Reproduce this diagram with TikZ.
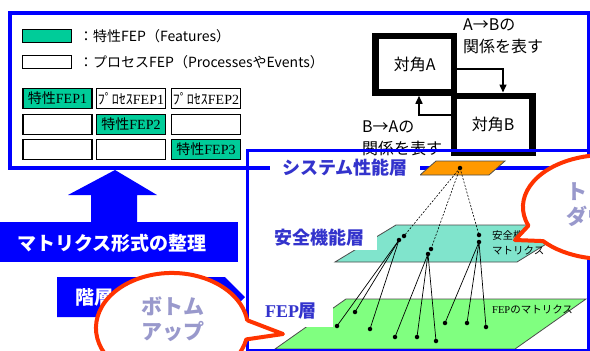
\documentclass[tikz,border=0pt]{standalone}
\usepackage{fontspec}
\setmainfont{Noto Sans CJK JP}
\newfontfamily\cjk{Noto Sans CJK JP}
\newfontfamily\tms{Liberation Serif}
\usetikzlibrary{arrows.meta}
\definecolor{pblue}{RGB}{0,0,255}
\definecolor{lblue}{RGB}{51,51,204}
\definecolor{cellgreen}{RGB}{0,204,153}
\definecolor{tealL}{RGB}{128,228,204}
\definecolor{lgreen}{RGB}{128,255,128}
\definecolor{orng}{RGB}{255,153,0}
\definecolor{cred}{RGB}{255,51,0}
\definecolor{lav}{RGB}{153,153,204}
\tikzset{
  frameline/.style={draw=pblue, line width=3.5pt},
  cell/.style={draw=black, line width=1.2pt, minimum width=69pt, minimum height=20pt, inner sep=0pt, font=\cjk\fontsize{14}{15}\selectfont},
  gcell/.style={cell, fill=cellgreen},
  legbox/.style={draw=black, line width=1.2pt, minimum width=49pt, minimum height=13pt, inner sep=0pt},
  legtext/.style={anchor=west, inner sep=0pt, font=\cjk\fontsize{14}{16}\selectfont},
  diag/.style={draw=black, line width=6.5pt, minimum width=78.5pt, minimum height=56.5pt, inner sep=0pt, font=\cjk\fontsize{16}{19}\selectfont},
  note/.style={anchor=west, align=left, inner sep=0pt, font=\cjk\fontsize{16}{22}\selectfont},
  conn/.style={line width=1.5pt, -{Triangle[length=8pt,width=7pt]}},
  whitetext/.style={text=white, inner sep=0pt, font=\cjk\bfseries\fontsize{19}{22}\selectfont},
  layerlabel/.style={fill=white, text=lblue, inner sep=0pt, font=\cjk\bfseries\fontsize{18}{20}\selectfont},
  layer/.style={draw=black!70, line width=0.8pt},
  small/.style={anchor=west, align=left, inner sep=0pt, font=\cjk\fontsize{10.5}{15}\selectfont},
  dot/.style={circle, fill=black, inner sep=0pt, minimum size=4.5pt},
  dashline/.style={line width=0.6pt, dash pattern=on 2pt off 1.5pt},
  solidline/.style={line width=0.7pt},
  callout/.style={draw=cred, fill=white, line width=4pt, line join=round},
  callouttext/.style={text=lav, align=center, inner sep=0pt, font=\cjk\bfseries\fontsize{21}{25}\selectfont}
}
\begin{document}
\begin{tikzpicture}[x=1pt,y=-1pt,font=\cjk]
\useasboundingbox (0,0) rectangle (590,351);
\fill[white] (0,0) rectangle (590,351);

% frame A
\draw[frameline] (10,13) rectangle (588.5,168);

% legend
\node[legbox, fill=cellgreen] (lg1) at (47,36) {};
\node[legtext] (lt1) at (79,36) {：特性FEP（Features）};
\node[legbox, fill=white] (lg2) at (47,62) {};
\node[legtext] (lt2) at (79,62) {：プロセスFEP（ProcessesやEvents）};

% table
\node[gcell] (c11) at (57.5,98.5) {特性{\tms FEP1}};
\node[cell] (c12) at (131,98.5) {ﾌﾟﾛｾｽ{\tms FEP1}};
\node[cell] (c13) at (206,98.5) {ﾌﾟﾛｾｽ{\tms FEP2}};
\node[cell] (c21) at (57.5,124.5) {};
\node[gcell] (c22) at (131,124.5) {特性{\tms FEP2}};
\node[cell] (c23) at (206,124.5) {};
\node[cell] (c31) at (57.5,149.5) {};
\node[cell] (c32) at (131,149.5) {};
\node[gcell] (c33) at (206,149.5) {特性{\tms FEP3}};

% diagonal example
\node[diag] (A) at (414.75,64.25) {対角A};
\node[diag] (B) at (493.25,124) {対角B};
\draw[conn] ([yshift=-4.75pt]A.east) -| ([xshift=9.75pt]B.north);
\draw[conn] ([yshift=9pt]B.west) -| ([xshift=4.25pt]A.south);
\node[note] (tAB) at (463,36) {A→Bの\\関係を表す};
\node[note] (tBA) at (362,138) {B→Aの\\関係を表す};

% big up arrow and blue blocks
\fill[pblue] (115,170) -- (157,195) -- (137,195) -- (137,223) -- (91,223) -- (91,195) -- (68,195) -- cycle;
\fill[pblue] (-2,222) rectangle (238,262);
\node[whitetext] (mx) at (112,243) {マトリクス形式の整理};
\fill[pblue] (57,277) -- (225,277) -- (245,297) -- (225,317) -- (57,317) -- cycle;
\node[whitetext, anchor=west] (kai) at (75,297) {階層};

% layers
\fill[orng] (420,175) -- (489,175) -- (505,161) -- (436,161) -- cycle;
\draw[layer] (420,175) -- (489,175) -- (505,161) -- (436,161) -- cycle;
\filldraw[layer, fill=tealL] (335,262) -- (517,262) -- (577,225) -- (396,225) -- cycle;
\filldraw[layer, fill=lgreen] (275,349) -- (515,349) -- (586,299) -- (346,299) -- cycle;

\node[layerlabel, minimum width=150pt, minimum height=22pt] (Ls) at (345,168) {システム性能層};
\node[layerlabel, minimum width=115pt, minimum height=25pt] (Lf) at (319.5,237.5) {安全機能層};
\node[layerlabel, minimum width=84pt, minimum height=32pt] (Le) at (291,311) {{\tms\bfseries FEP}層};

\node[small] (tf) at (492,242.5) {安全機能\\マトリクス};
\node[small] (te) at (492,309) {{\tms FEP}のマトリクス};

% dots
\node[dot] (o) at (460,168) {};
\node[dot] (a1) at (404,236) {};
\node[dot] (a2) at (431,249) {};
\node[dot] (a3) at (479,235) {};
\node[dot] (b1) at (399,240) {};
\node[dot] (b2) at (428,254) {};
\node[dot] (b3) at (479,242) {};
\node[dot] (f1) at (337,326) {};
\node[dot] (f2) at (355,312) {};
\node[dot] (f3) at (370,329) {};
\node[dot] (f4) at (395,337) {};
\node[dot] (f5) at (417,337) {};
\node[dot] (f6) at (436,341) {};
\node[dot] (f7) at (445,323) {};
\node[dot] (f8) at (467,323) {};
\node[dot] (f9) at (486,327) {};
\foreach \t in {a1,a2,a3} \draw[dashline] (o.center) -- (\t.center);
\foreach \t in {f1,f2,f3} \draw[solidline] (b1.center) -- (\t.center);
\foreach \t in {f4,f5,f6} \draw[solidline] (b2.center) -- (\t.center);
\foreach \t in {f7,f8,f9} \draw[solidline] (b3.center) -- (\t.center);

% frame B
\draw[frameline, line width=3pt] (247.5,150.5) rectangle (588.5,350.5);

% callouts
\filldraw[callout] (247.3,320.3) -- (283,334) -- (246.3,339.4) arc[start angle=12, end angle=352, x radius=76, y radius=55] -- cycle;
\node[callouttext] (bu) at (173,319.5) {ボトム\\アップ};
\filldraw[callout] (528.4,225.6) arc[start angle=159, end angle=499, x radius=82, y radius=52] -- (515,240) -- cycle;
\node[callouttext] (td) at (598,204) {トップ\\ダウン};
\end{tikzpicture}
\end{document}
